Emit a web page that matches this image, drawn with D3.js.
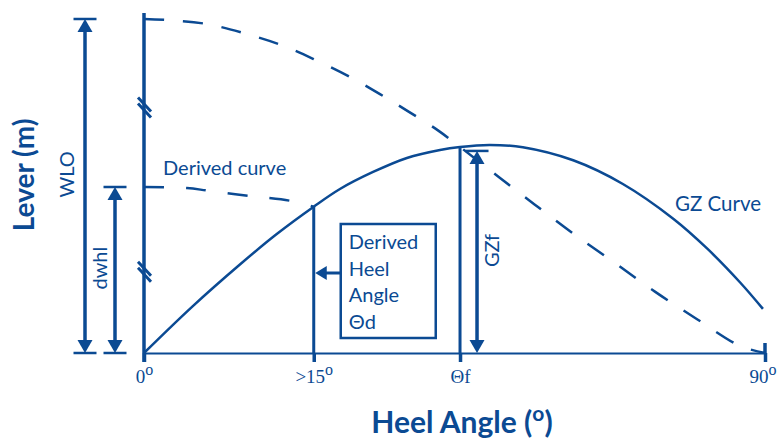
<!DOCTYPE html>
<html>
<head>
<meta charset="utf-8">
<script src="https://cdn.jsdelivr.net/npm/d3@7"></script>
<style>
  body { margin: 0; background: #fff; }
</style>
</head>
<body>
<div id="chart"></div>
<script>
// 1. DATA (heel angle in degrees, lever as a fraction of WLO)
const gzAngle = [0, 7, 13.9, 19.1, 24.6, 28.4, 33.2, 38.1, 42.9, 45.8, 50.1, 54.9, 62.2, 69.4, 76.7, 81.6, 86.4, 89.7];
const gzLever = [0, 0.139, 0.265, 0.354, 0.438, 0.491, 0.542, 0.584, 0.608, 0.617, 0.623, 0.616, 0.577, 0.506, 0.402, 0.313, 0.211, 0.132];

const wloAngle = [0, 3.2, 9.1, 14.9, 20.3, 25.2, 29.9, 34.2, 38.4, 42.5, 45.8, 51.6, 57.1, 62.5, 68.3, 74.1, 80.1, 86.4, 90];
const wloLever = [1, 0.997, 0.985, 0.955, 0.919, 0.874, 0.826, 0.775, 0.722, 0.668, 0.617, 0.524, 0.437, 0.353, 0.269, 0.183, 0.102, 0.021, 0];

const derivedAngle = [0, 6.2, 9.3, 15.4, 21.4, 24.6];
const derivedLever = [0.497, 0.494, 0.486, 0.47, 0.455, 0.438];

const angleTicks = [0, 24.6, 45.8, 90];
const tickLabels = ["0", ">15", "Θf", "90"];
const tickDegree = [true, true, false, true];

const thetaD = 24.6;
const thetaF = 45.8;
const WLO = 1;
const dwhl = 0.497;
const GZf = 0.605;
const yBreaks = [0.738, 0.246];
const boxLines = ["Derived", "Heel", "Angle", "Θd"];

// 2. SETUP
const width = 777;
const height = 440;
const blue = "#0b4a93";
const sans = "Lato, 'Open Sans', sans-serif";
const serif = "'Liberation Serif', 'DejaVu Serif', serif";

const svg = d3.select("#chart")
    .append("svg")
    .attr("width", width)
    .attr("height", height);

const x = d3.scaleLinear().domain([0, 90]).range([144, 765]);
const y = d3.scaleLinear().domain([0, 1]).range([353, 19]);

const zip = (a, b) => a.map((v, i) => [v, b[i]]);
const line = d3.line()
    .x(d => x(d[0]))
    .y(d => y(d[1]))
    .curve(d3.curveCatmullRom);

const gzAt = a => gzLever[gzAngle.indexOf(a)];

// 3. CURVES
svg.append("path")
    .datum(zip(wloAngle, wloLever))
    .attr("d", line)
    .attr("fill", "none").attr("stroke", blue).attr("stroke-width", 2.5)
    .attr("stroke-dasharray", "20,19");

svg.append("path")
    .datum(zip(derivedAngle, derivedLever))
    .attr("d", line)
    .attr("fill", "none").attr("stroke", blue).attr("stroke-width", 2.5)
    .attr("stroke-dasharray", "20,22");

svg.append("path")
    .datum(zip(gzAngle, gzLever))
    .attr("d", line)
    .attr("fill", "none").attr("stroke", blue).attr("stroke-width", 2.5);

// 4. AXES
const xAxis = d3.axisBottom(x)
    .tickValues(angleTicks)
    .tickSize(9)
    .tickSizeOuter(0)
    .tickPadding(8);

const gx = svg.append("g")
    .attr("transform", `translate(0,${y(0)})`)
    .call(xAxis);
gx.select(".domain").attr("stroke", blue).attr("stroke-width", 2.2);
gx.selectAll(".tick line").attr("stroke", blue).attr("stroke-width", 3.5);
gx.selectAll(".tick text").each(function(d, i) {
    const t = d3.select(this);
    t.text(null)
        .attr("fill", blue)
        .attr("font-family", serif)
        .attr("font-size", 19);
    // last label sits against the right edge
    if (i === angleTicks.length - 1) t.attr("text-anchor", "end").attr("x", width - 1 - x(d));
    t.append("tspan").text(tickLabels[i]);
    if (tickDegree[i]) t.append("tspan").attr("font-size", 16).attr("dy", -8).text("o");
});

// y axis
svg.append("line")
    .attr("x1", x(0)).attr("x2", x(0))
    .attr("y1", y(WLO) - 6).attr("y2", y(0) + 9)
    .attr("stroke", blue).attr("stroke-width", 3.5);

// axis breaks
yBreaks.forEach(b => {
    [0, 6].forEach(off => {
        svg.append("line")
            .attr("x1", x(0) - 6).attr("y1", y(b) - 9 + off)
            .attr("x2", x(0) + 7).attr("y2", y(b) + 5 + off)
            .attr("stroke", blue).attr("stroke-width", 3);
    });
});

// 90 tick above the axis
svg.append("line")
    .attr("x1", x(90)).attr("x2", x(90))
    .attr("y1", y(0) - 10).attr("y2", y(0))
    .attr("stroke", blue).attr("stroke-width", 3.5);

// guide lines at theta d and theta f
[thetaD, thetaF].forEach(a => {
    svg.append("line")
        .attr("x1", x(a)).attr("x2", x(a))
        .attr("y1", y(gzAt(a))).attr("y2", y(0))
        .attr("stroke", blue).attr("stroke-width", 3);
});

// 5. DIMENSION ARROWS
function head(px, py, dir) {
    // dir = -1 points up, 1 points down
    svg.append("path")
        .attr("d", `M${px},${py} L${px - 7.5},${py - dir * 13} L${px + 7.5},${py - dir * 13} Z`)
        .attr("fill", blue);
}
function dimArrow(px, top, bottom, bottomBar) {
    svg.append("line")
        .attr("x1", px).attr("x2", px)
        .attr("y1", top + 8).attr("y2", bottom - 8)
        .attr("stroke", blue).attr("stroke-width", 3.5);
    head(px, top, -1);
    head(px, bottom, 1);
    const bars = bottomBar ? [top, bottom] : [top];
    bars.forEach(by => {
        svg.append("line")
            .attr("x1", px - 11.5).attr("x2", px + 11.5)
            .attr("y1", by).attr("y2", by)
            .attr("stroke", blue).attr("stroke-width", 2.5);
    });
}

const wloX = x(0) - 59;
const dwhlX = x(0) - 29;
const gzfX = x(thetaF) + 17;
dimArrow(wloX, y(WLO), y(0), true);
dimArrow(dwhlX, y(dwhl), y(0), true);
dimArrow(gzfX, y(GZf), y(0), false);

// 6. TEXT
function vText(tx, ty, str, size, weight) {
    svg.append("text")
        .attr("transform", `translate(${tx},${ty}) rotate(-90)`)
        .attr("text-anchor", "middle")
        .attr("font-family", sans)
        .attr("font-size", size)
        .attr("font-weight", weight || "normal")
        .attr("fill", blue)
        .text(str);
}
vText(wloX - 11, y(0.535), "WLO", 20);
vText(dwhlX - 8, y(0.254), "dwhl", 20);
vText(gzfX + 22, y(0.307), "GZf", 20);
vText(34, y(0.533), "Lever (m)", 28, "bold");

const xTitle = svg.append("text")
    .attr("x", 462).attr("y", 433)
    .attr("text-anchor", "middle")
    .attr("font-family", sans)
    .attr("font-size", 30)
    .attr("font-weight", "bold")
    .attr("fill", blue);
xTitle.append("tspan").text("Heel Angle (");
xTitle.append("tspan").attr("font-size", 21).attr("dy", -12).text("o");
xTitle.append("tspan").attr("dy", 12).text(")");

svg.append("text")
    .attr("x", x(0) + 19).attr("y", y(0.533))
    .attr("font-family", sans).attr("font-size", 20).attr("fill", blue)
    .text("Derived curve");

svg.append("text")
    .attr("x", 675).attr("y", 211)
    .attr("font-family", sans).attr("font-size", 20.5).attr("fill", blue)
    .text("GZ Curve");

// derived heel angle box
const boxX = x(thetaD) + 27;
const boxY = 224;
svg.append("rect")
    .attr("x", boxX).attr("y", boxY)
    .attr("width", 95).attr("height", 114)
    .attr("fill", "none").attr("stroke", blue).attr("stroke-width", 2.5);
svg.append("text")
    .attr("font-family", sans).attr("font-size", 20).attr("fill", blue)
    .selectAll("tspan").data(boxLines).join("tspan")
    .attr("x", boxX + 8)
    .attr("y", (d, i) => boxY + 25 + i * 26.5)
    .text(d => d);

svg.append("line")
    .attr("x1", boxX).attr("x2", x(thetaD) + 10)
    .attr("y1", boxY + 49).attr("y2", boxY + 49)
    .attr("stroke", blue).attr("stroke-width", 3);
svg.append("path")
    .attr("d", `M${x(thetaD) + 1.5},${boxY + 49} L${x(thetaD) + 13},${boxY + 42} L${x(thetaD) + 13},${boxY + 56} Z`)
    .attr("fill", blue);
</script>
</body>
</html>
